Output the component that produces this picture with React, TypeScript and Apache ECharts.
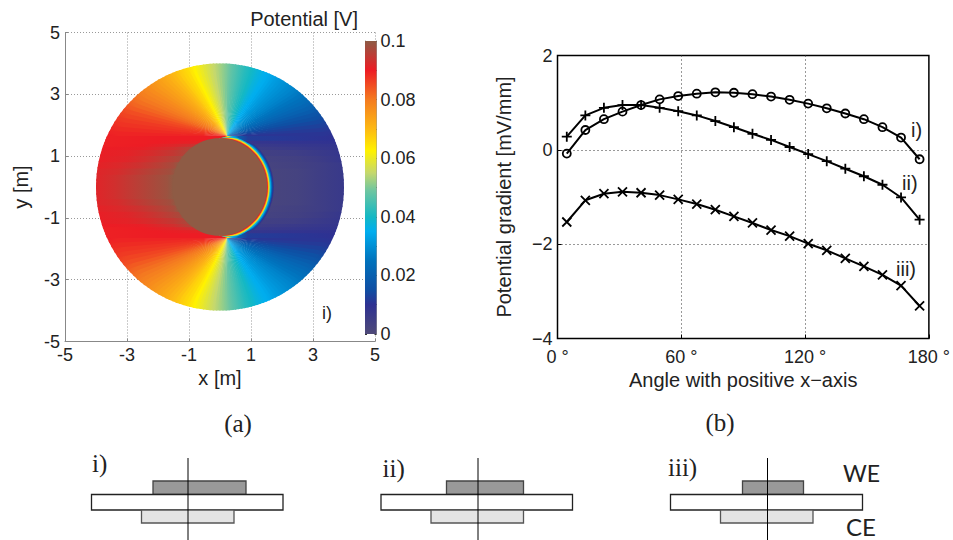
import React, { useEffect, useRef } from "react";
import * as echarts from "echarts";

// ---------- colour scale of the potential map (V) ----------
const scaleValues = [0, 0.01, 0.015, 0.025, 0.035, 0.04, 0.049, 0.055, 0.0625, 0.07, 0.08, 0.09, 0.1];
const scaleColors = ["#4f4a78", "#2e3192", "#0f4ea3", "#0072bc", "#00aeef", "#14b8c4", "#6fc6a0", "#c5d86d", "#fff200", "#fdb913", "#f47b20", "#ed1c24", "#8e5b45"];
const barTicks = [0, 0.02, 0.04, 0.06, 0.08, 0.1];

// ---------- potential readings (V) ----------
// Fan above and below the electrode: reading per direction (deg) seen from the electrode's edge.
const fanAngles = [0, 2.5, 5, 7.5, 10, 12.5, 15, 17.5, 20, 22.5, 25, 27.5, 30, 32.5, 35, 37.5, 40, 42.5, 45, 47.5, 50, 52.5, 55, 57.5, 60, 62.5, 65, 67.5, 70, 72.5, 75, 77.5, 80, 82.5, 85, 87.5, 90, 92.5, 95, 97.5, 100, 102.5, 105, 107.5, 110, 112.5, 115, 117.5, 120, 122.5, 125, 127.5, 130, 132.5, 135, 137.5, 140, 142.5, 145, 147.5, 150, 152.5, 155, 157.5, 160, 162.5, 165, 167.5, 170, 172.5, 175, 177.5, 180];
const fanValues = [0.01, 0.0107, 0.0115, 0.0127, 0.014, 0.0155, 0.017, 0.0188, 0.0205, 0.022, 0.0232, 0.0245, 0.0255, 0.0265, 0.0275, 0.0283, 0.029, 0.0298, 0.0305, 0.0313, 0.032, 0.033, 0.034, 0.0348, 0.0355, 0.0365, 0.0375, 0.0388, 0.04, 0.041, 0.042, 0.0433, 0.0445, 0.0458, 0.047, 0.0485, 0.05, 0.0512, 0.0525, 0.0538, 0.055, 0.0562, 0.0575, 0.0588, 0.06, 0.0612, 0.0625, 0.064, 0.0655, 0.0665, 0.0675, 0.0688, 0.07, 0.0712, 0.0722, 0.0732, 0.0742, 0.0752, 0.0762, 0.0772, 0.0782, 0.0792, 0.0802, 0.0812, 0.0822, 0.0835, 0.0848, 0.0858, 0.0868, 0.0876, 0.0884, 0.0892, 0.09];
// Band beside the electrode: scan lines, |y| edges and [x, value] readings left and right.
const bandEdges = [0, 0.2, 0.4, 0.6, 0.8, 1.0, 1.2, 1.3, 1.4, 1.5, 1.65];
const bandLeft = [
  [[-4, 0.0915], [-3.4, 0.093], [-2.8, 0.095], [-2.2, 0.097], [-1.7, 0.0985], [-1.5, 0.1]],
  [[-4, 0.0915], [-3.4, 0.093], [-2.8, 0.095], [-2.2, 0.097], [-1.7, 0.0985], [-1.5, 0.1]],
  [[-4, 0.0915], [-3.3, 0.0925], [-2.7, 0.0945], [-2.1, 0.0965], [-1.6, 0.098], [-1.4, 0.1]],
  [[-3.9, 0.091], [-3.2, 0.092], [-2.6, 0.0935], [-2.0, 0.0955], [-1.5, 0.0975], [-1.3, 0.1]],
  [[-3.9, 0.0905], [-3.0, 0.0915], [-2.4, 0.093], [-1.8, 0.095], [-1.3, 0.097], [-1.1, 0.1]],
  [[-3.8, 0.0905], [-3.0, 0.091], [-2.2, 0.0925], [-1.5, 0.0945], [-1.0, 0.097], [-0.8, 0.1]],
  [[-3.8, 0.09], [-2.5, 0.0905], [-1.5, 0.093], [-0.8, 0.097]],
  [[-3.8, 0.0895], [-2.5, 0.09], [-1.5, 0.0915], [-0.6, 0.094]],
  [[-3.8, 0.0895], [-2.0, 0.09], [-0.5, 0.091]],
  [[-3.8, 0.0895], [-2.0, 0.09], [-0.4, 0.09]],
];
const bandRight = [
  [[1.6, 0.002], [2.5, 0.003], [3.2, 0.005], [4, 0.007]],
  [[1.6, 0.002], [2.5, 0.003], [3.2, 0.005], [4, 0.007]],
  [[1.5, 0.002], [2.5, 0.003], [3.2, 0.005], [4, 0.007]],
  [[1.4, 0.0025], [2.5, 0.0035], [3.2, 0.005], [4, 0.007]],
  [[1.3, 0.003], [2.5, 0.004], [3.2, 0.0055], [3.9, 0.0075]],
  [[1.1, 0.004], [2.4, 0.005], [3.8, 0.0075]],
  [[0.9, 0.005], [2.4, 0.0065], [3.7, 0.008]],
  [[0.8, 0.0065], [2.4, 0.0075], [3.7, 0.0085]],
  [[0.6, 0.008], [3.7, 0.0095]],
  [[0.15, 0.09], [0.25, 0.0625], [0.4, 0.035], [0.6, 0.02], [0.9, 0.012], [3.7, 0.01]],
];
// Thin rim on the electrode's right edge: reading against distance from the edge (m).
const rimOffsets = [0.22, 0.2, 0.18, 0.165, 0.15, 0.135, 0.12, 0.105, 0.09, 0.07, 0.05, 0.025];
const rimValues = [0.006, 0.01, 0.015, 0.02, 0.025, 0.03, 0.035, 0.04, 0.05, 0.0625, 0.075, 0.09];
const electrodeValue = [0.1];

// ---------- gradient curves ----------
const angles = [4.5, 13.5, 22.5, 31.5, 40.5, 49.5, 58.5, 67.5, 76.5, 85.5, 94.5, 103.5, 112.5, 121.5, 130.5, 139.5, 148.5, 157.5, 166.5, 175.5];
const seriesI = [-0.08, 0.42, 0.65, 0.81, 0.95, 1.07, 1.14, 1.19, 1.22, 1.21, 1.18, 1.13, 1.06, 0.98, 0.88, 0.77, 0.65, 0.48, 0.26, -0.2];
const seriesII = [0.28, 0.73, 0.89, 0.95, 0.95, 0.89, 0.82, 0.73, 0.61, 0.48, 0.34, 0.21, 0.06, -0.09, -0.24, -0.4, -0.56, -0.74, -1.01, -1.48];
const seriesIII = [-1.53, -1.07, -0.93, -0.89, -0.91, -0.96, -1.05, -1.15, -1.27, -1.41, -1.55, -1.7, -1.83, -1.99, -2.13, -2.3, -2.47, -2.65, -2.88, -3.31];
const mapTicks = [-5, -3, -1, 1, 3, 5];

// ---------- schematic: [dark, white, light] plate extents in page pixels ----------
const schematics = [
  { label: "i)", labelX: 92, labelY: 463, axis: 188, dark: [153, 246], white: [91.5, 283], light: [141.5, 234] },
  { label: "ii)", labelX: 382.5, labelY: 468, axis: 478, dark: [446.5, 523.5], white: [381, 572.5], light: [431, 523.5] },
  { label: "iii)", labelX: 668, labelY: 467, axis: 767.5, dark: [742.5, 803.5], white: [670.5, 862.5], light: [720.5, 813] },
];

const TXT = "#222";
const SANS = "'Liberation Sans', Arial, sans-serif";
const SERIF = "'Liberation Serif', serif";

function hex(c: string) {
  return [1, 3, 5].map((i) => parseInt(c.slice(i, i + 2), 16));
}
function colorOf(v: number) {
  if (v <= scaleValues[0]) return scaleColors[0];
  for (let i = 1; i < scaleValues.length; i++) {
    if (v <= scaleValues[i]) {
      const t = (v - scaleValues[i - 1]) / (scaleValues[i] - scaleValues[i - 1]);
      const a = hex(scaleColors[i - 1]);
      const b = hex(scaleColors[i]);
      return `rgb(${a.map((p, k) => Math.round(p + (b[k] - p) * t)).join(",")})`;
    }
  }
  return scaleColors[scaleColors.length - 1];
}

const R = 4; // disc radius (m)
const FAN_X = 0.22;
const FAN_Y = 1.65;
const EL_RX = 1.53;
const EL_RY = 1.58;
const EL_CX = -0.01;

function rayToCircle(thetaDeg: number, sign: number) {
  const t = (thetaDeg * Math.PI) / 180;
  const dx = Math.cos(t);
  const dy = Math.sin(t) * sign;
  const oy = FAN_Y * sign;
  const b = FAN_X * dx + oy * dy;
  const c = FAN_X * FAN_X + oy * oy - R * R;
  const s = -b + Math.sqrt(b * b - c);
  return [FAN_X + s * dx, oy + s * dy];
}

// Each wedge overlaps the next by a degree, and the next paints over it, so no seam shows.
function fanItem(_p: any, api: any) {
  const i = api.value(0);
  const sign = api.value(1);
  const a1 = fanAngles[i];
  const a2 = fanAngles[i + 1];
  const A = api.coord(rayToCircle(a1, sign));
  const B = api.coord(rayToCircle(a2, sign));
  const C = api.coord(rayToCircle(a2 + 1, sign));
  const O = api.coord([FAN_X, FAN_Y * sign]);
  const fill = {
    type: "linear",
    global: true,
    x: A[0],
    y: A[1],
    x2: B[0],
    y2: B[1],
    colorStops: [
      { offset: 0, color: colorOf(fanValues[i]) },
      { offset: 1, color: colorOf(fanValues[i + 1]) },
    ],
  };
  return {
    type: "polygon",
    shape: { points: [O, A, B, C] },
    style: { fill },
  };
}

// Scan lines are drawn from the electrode's mid-height outward, each overlapping the next.
function bandItem(_p: any, api: any) {
  const i = api.value(0);
  const sign = api.value(1);
  const last = i === bandLeft.length - 1;
  const y0 = i === 0 && sign === 1 ? -0.05 : bandEdges[i];
  const y1 = last ? bandEdges[i + 1] : bandEdges[i + 1] + 0.05;
  const ym = (y0 + y1) / 2;
  const cx = (y: number) => Math.sqrt(R * R - y * y);
  const pts = [
    [-cx(y0), y0],
    [-cx(ym), ym],
    [-cx(y1), y1],
    [cx(y1), y1],
    [cx(ym), ym],
    [cx(y0), y0],
  ].map((p) => api.coord([p[0], p[1] * sign]));
  const L = api.coord([-R, 0]);
  const Rr = api.coord([R, 0]);
  const off = (x: number) => Math.min(1, Math.max(0, (x + R) / (2 * R)));
  const left = bandLeft[i];
  const right = bandRight[i];
  const colorStops = [
    ...left.map((s) => ({ offset: off(s[0]), color: colorOf(s[1]) })),
    { offset: off(0), color: colorOf(left[left.length - 1][1]) },
    { offset: off(0.001), color: colorOf(right[0][1]) },
    ...right.map((s) => ({ offset: off(s[0]), color: colorOf(s[1]) })),
  ];
  const fill = { type: "linear", global: true, x: L[0], y: 0, x2: Rr[0], y2: 0, colorStops };
  return {
    type: "polygon",
    shape: { points: pts },
    style: { fill },
  };
}

function rimItem(_p: any, api: any) {
  const i = api.value(0);
  const d = rimOffsets[i];
  const limit = rimValues[i] < 0.035 ? 72 : 90;
  const pts: number[][] = [];
  for (let t = -90; t <= 90; t += 5) {
    const r = (t * Math.PI) / 180;
    const taper = Math.max(0, Math.min(1, (limit - Math.abs(t)) / 20));
    pts.push(api.coord([EL_CX + (EL_RX + d * taper) * Math.cos(r), (EL_RY + d * taper) * Math.sin(r)]));
  }
  return { type: "polygon", shape: { points: pts }, style: { fill: colorOf(rimValues[i]) } };
}

function electrodeItem(_p: any, api: any) {
  const pts: number[][] = [];
  for (let t = 0; t < 360; t += 5) {
    const r = (t * Math.PI) / 180;
    pts.push(api.coord([EL_CX + EL_RX * Math.cos(r), EL_RY * Math.sin(r)]));
  }
  return { type: "polygon", shape: { points: pts }, style: { fill: colorOf(api.value(0)) } };
}

function barItem(_p: any, api: any) {
  const a = api.coord([0, 0.1]);
  const b = api.coord([1, 0]);
  const colorStops = scaleValues.map((v, i) => ({ offset: 1 - v / 0.1, color: scaleColors[i] })).reverse();
  return {
    type: "rect",
    shape: { x: a[0], y: a[1], width: b[0] - a[0], height: b[1] - a[1] },
    style: { fill: { type: "linear", x: 0, y: 0, x2: 0, y2: 1, colorStops } },
  };
}

const fanCells: number[][] = [];
fanValues.slice(0, -1).forEach((_v, i) => {
  fanCells.push([i, 1]);
  fanCells.push([i, -1]);
});
const bandCells: number[][] = [];
bandLeft.forEach((_v, i) => {
  bandCells.push([i, 1]);
  bandCells.push([i, -1]);
});

function text(t: string, x: number, y: number, size: number, family: string, align = "left", extra: any = {}) {
  return {
    type: "text",
    x,
    y,
    z: 20,
    silent: true,
    style: { text: t, fontSize: size, fontFamily: family, fill: TXT, align, verticalAlign: "middle", ...extra },
  };
}
function plate(x: number[], y0: number, y1: number, fill: string, stroke: string) {
  return {
    type: "rect",
    z: 10,
    silent: true,
    shape: { x: x[0], y: y0, width: x[1] - x[0], height: y1 - y0 },
    style: { fill, stroke, lineWidth: 1.3 },
  };
}

const symCircle = "path://M10 5A5 5 0 1 1 0 5A5 5 0 1 1 10 5Z";
const symPlus = "path://M0 5L10 5M5 0L5 10";
const symCross = "path://M0 0L10 10M10 0L0 10";

function curve(name: string, values: number[], symbol: string, size: number) {
  return {
    name,
    type: "line",
    xAxisIndex: 2,
    yAxisIndex: 2,
    data: angles.map((a, i) => [a, values[i]]),
    symbol,
    symbolSize: size,
    showAllSymbol: true,
    lineStyle: { color: "#000", width: 2 },
    itemStyle: { color: "rgba(0,0,0,0)", borderColor: "#000", borderWidth: 1.8 },
  };
}

export default function App() {
  const ref = useRef<HTMLDivElement>(null);
  useEffect(() => {
    document.body.style.margin = "0";
    const chart = echarts.init(ref.current!, null, { renderer: "svg" });
    const gridLine = { show: true, lineStyle: { color: "#999", type: [1, 2], width: 1 } };
    const mapAxisLine = { show: true, onZero: false, lineStyle: { color: "#888", width: 1 } };
    const mapTick = { show: true, inside: true, length: 3, lineStyle: { color: "#888" }, customValues: mapTicks };
    const mapLabel = { color: TXT, fontSize: 18, fontFamily: SANS, customValues: mapTicks };
    const blackDots = { show: true, showMinLine: false, showMaxLine: false, lineStyle: { color: "#333", type: [1, 3], width: 1 } };
    chart.setOption({
      animation: false,
      backgroundColor: "#fff",
      grid: [
        { left: 65, top: 32.5, width: 310, height: 309 },
        { left: 365, top: 41, width: 11.5, height: 293 },
        { left: 557.5, top: 55.5, width: 373.5, height: 283, show: true, borderColor: "#000", borderWidth: 1.5, backgroundColor: "transparent" },
      ],
      xAxis: [
        {
          type: "value", gridIndex: 0, min: -5, max: 5, axisLine: mapAxisLine, axisTick: mapTick, axisLabel: { ...mapLabel, margin: 4 }, splitLine: gridLine,
          name: "x [m]", nameLocation: "middle", nameGap: 26, nameTextStyle: { color: TXT, fontSize: 20, fontFamily: SANS },
        },
        { type: "value", gridIndex: 1, min: 0, max: 1, show: false },
        {
          type: "value", gridIndex: 2, min: 0, max: 180, interval: 60,
          axisLine: { show: false, onZero: false }, axisTick: { show: true, inside: true, length: 4, lineStyle: { color: "#000" } },
          axisLabel: { color: TXT, fontSize: 18, fontFamily: SANS, margin: 9, showMaxLabel: true, showMinLabel: true, formatter: (v: number) => `${v} °` },
          splitLine: blackDots,
          name: "Angle with positive x\u2212axis", nameLocation: "middle", nameGap: 29, nameTextStyle: { color: TXT, fontSize: 20, fontFamily: SANS },
        },
      ],
      yAxis: [
        {
          type: "value", gridIndex: 0, min: -5, max: 5, axisLine: mapAxisLine, axisTick: mapTick, axisLabel: { ...mapLabel, margin: 5 }, splitLine: gridLine,
          name: "y [m]", nameLocation: "middle", nameGap: 34, nameTextStyle: { color: TXT, fontSize: 20, fontFamily: SANS },
        },
        {
          type: "value", gridIndex: 1, position: "right", min: 0, max: 0.1, interval: 0.01,
          axisLine: { show: true, onZero: false, lineStyle: { color: "#999", width: 1 } },
          axisTick: { show: true, inside: true, length: 2, lineStyle: { color: "#333" } },
          axisLabel: {
            color: TXT, fontSize: 18, fontFamily: SANS, margin: 4, hideOverlap: false,
            formatter: (v: number) => (barTicks.some((t) => Math.abs(t - v) < 1e-6) ? String(Math.round(v * 100) / 100) : ""),
          },
          splitLine: { show: false },
        },
        {
          type: "value", gridIndex: 2, min: -4, max: 2, interval: 2,
          axisLine: { show: false, onZero: false }, axisTick: { show: true, inside: true, length: 4, lineStyle: { color: "#000" } },
          axisLabel: { color: TXT, fontSize: 18, fontFamily: SANS, margin: 5, formatter: (v: number) => String(v).replace("-", "\u2212") },
          splitLine: blackDots,
          name: "Potential gradient [mV/mm]", nameLocation: "middle", nameGap: 44, nameTextStyle: { color: TXT, fontSize: 20, fontFamily: SANS },
        },
        {
          type: "value", gridIndex: 1, position: "left", min: 0, max: 0.1, interval: 0.01,
          axisLine: { show: true, onZero: false, lineStyle: { color: "#999", width: 1 } },
          axisTick: { show: true, inside: true, length: 2, lineStyle: { color: "#333" } },
          axisLabel: { show: false }, splitLine: { show: false },
        },
      ],
      series: [
        { type: "custom", xAxisIndex: 0, yAxisIndex: 0, silent: true, clip: false, renderItem: fanItem, data: fanCells, z: 2 },
        { type: "custom", xAxisIndex: 0, yAxisIndex: 0, silent: true, clip: false, renderItem: bandItem, data: bandCells, z: 3 },
        { type: "custom", xAxisIndex: 0, yAxisIndex: 0, silent: true, clip: false, renderItem: rimItem, data: rimValues.map((_v, i) => [i]), z: 4 },
        { type: "custom", xAxisIndex: 0, yAxisIndex: 0, silent: true, clip: false, renderItem: electrodeItem, data: electrodeValue.map((v) => [v]), z: 5 },
        { type: "custom", xAxisIndex: 1, yAxisIndex: 1, silent: true, clip: false, renderItem: barItem, data: [[0]], z: 6 },
        curve("i)", seriesI, symCircle, 8),
        curve("ii)", seriesII, symPlus, 10),
        curve("iii)", seriesIII, symCross, 9),
      ],
      graphic: [
        text("Potential [V]", 358, 19, 20, SANS, "right"),
        text("i)", 322, 313, 18, SANS),
        text("i)", 911, 130, 20, SANS),
        text("ii)", 902, 183, 20, SANS),
        text("iii)", 896, 269, 20, SANS),
        text("(a)", 238, 423, 25, SERIF, "center"),
        text("(b)", 720, 422, 25, SERIF, "center"),
        text("WE", 843, 473, 23, "Lato, sans-serif", "left"),
        text("CE", 846, 526, 24, "Lato, sans-serif", "left"),
        ...schematics.flatMap((s) => [
          text(s.label, s.labelX, s.labelY, 25, SERIF),
          plate(s.dark, 481, 494.5, "#999", "#444"),
          plate(s.white, 494.5, 510, "#fff", "#222"),
          plate(s.light, 510, 523, "#e4e4e4", "#555"),
          { type: "line", z: 11, silent: true, shape: { x1: s.axis, y1: 458, x2: s.axis, y2: 540 }, style: { stroke: "#000", lineWidth: 1 } },
        ]),
      ],
    });
    return () => chart.dispose();
  }, []);
  return <div ref={ref} style={{ position: "fixed", left: 0, top: 0, width: 953, height: 540 }} />;
}
